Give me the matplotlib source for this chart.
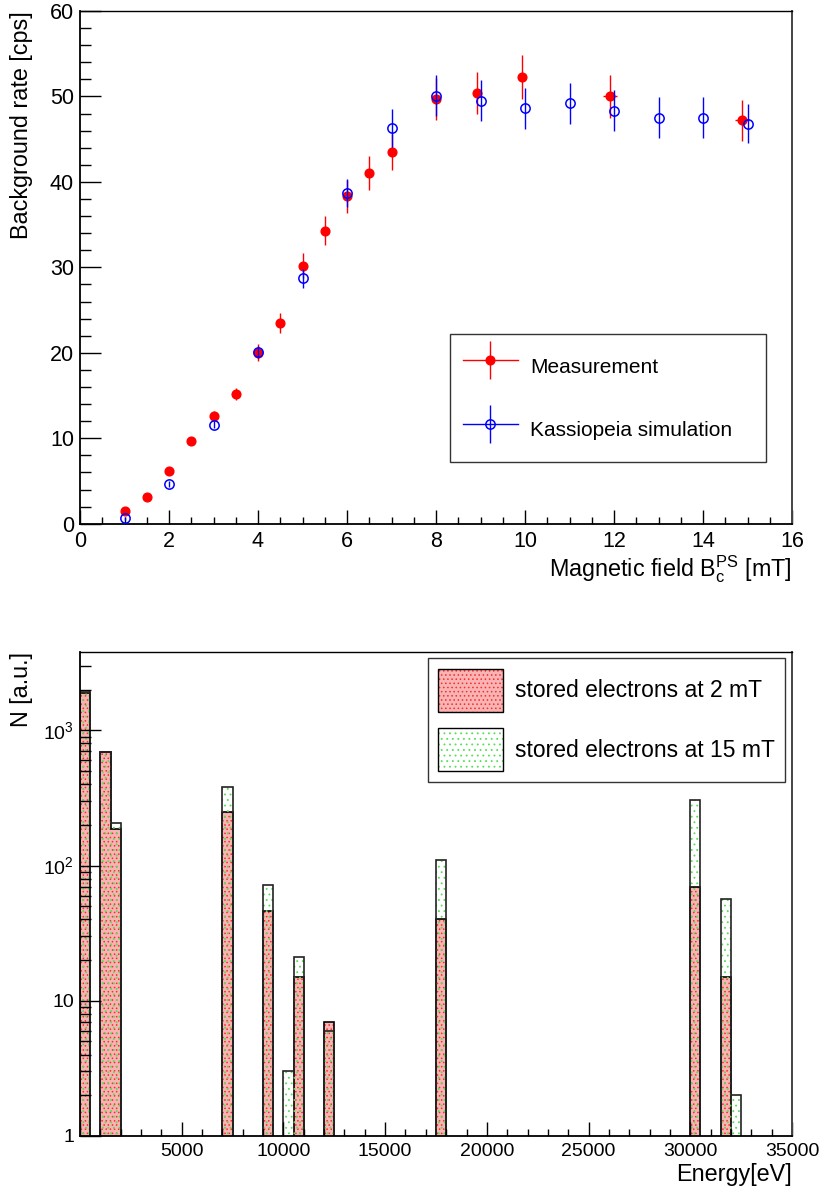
import numpy as np
import matplotlib
matplotlib.use("Agg")
import matplotlib.pyplot as plt
from matplotlib.lines import Line2D
from matplotlib.patches import Patch
from matplotlib.ticker import MultipleLocator, FixedLocator, FixedFormatter, FuncFormatter, LogLocator, NullFormatter

plt.rcParams['font.family'] = ['Liberation Sans', 'DejaVu Sans']
plt.rcParams['mathtext.fontset'] = 'custom'
plt.rcParams['mathtext.rm'] = 'Liberation Sans'
plt.rcParams['mathtext.it'] = 'Liberation Sans:italic'
plt.rcParams['mathtext.bf'] = 'Liberation Sans:bold'
plt.rcParams['hatch.linewidth'] = 0.6

# background rate vs. magnetic field
meas_field = [1, 1.5, 2, 2.5, 3, 3.5, 4, 4.5, 5, 5.5, 6, 6.5, 7, 8, 8.92, 9.93, 11.91, 14.88]
meas_field_err = [0, 0, 0, 0, 0, 0, 0, 0, 0, 0, 0, 0, 0, 0, 0, 0, 0.15, 0.15]
meas_rate = [1.5, 3.1, 6.2, 9.7, 12.6, 15.2, 20.0, 23.5, 30.2, 34.3, 38.3, 41.0, 43.5,
             49.7, 50.4, 52.3, 50.0, 47.2]
meas_err = [0.2, 0.3, 0.4, 0.5, 0.6, 0.7, 1.0, 1.15, 1.45, 1.7, 1.9, 2.0, 2.1,
            2.5, 2.5, 2.6, 2.5, 2.4]

sim_field = [1, 2, 3, 4, 5, 6, 7, 8, 9, 10, 11, 12, 13, 14, 15]
sim_rate = [0.63, 4.65, 11.6, 20.1, 28.7, 38.7, 46.3, 50.1, 49.5, 48.6, 49.2, 48.3, 47.5, 47.5, 46.8]
sim_err = [0.2, 0.3, 0.4, 0.7, 1.1, 1.6, 2.2, 2.4, 2.4, 2.4, 2.4, 2.4, 2.4, 2.4, 2.3]

# energy spectra of stored electrons (non-empty 500 eV bins)
bin_width = 500
energy_bins = [0, 1000, 1500, 7000, 9000, 10000, 10500, 12000, 17500, 30000, 31500, 32000]
counts_2mT = [1880, 690, 187, 247, 46, 0, 15, 7, 40, 70, 15, 0]
counts_15mT = [1970, 690, 205, 380, 72, 3, 21, 6, 110, 303, 57, 2]

FS_TICK_TOP = 15.5
FS_TICK_BOT = 14
FS_TITLE = 16.8

fig = plt.figure(figsize=(8.21, 11.87), dpi=100)
W, H = 821.0, 1187.0
ax1 = fig.add_axes([80 / W, 1 - 523.7 / H, 712 / W, 512.7 / H])
ax2 = fig.add_axes([80 / W, 1 - 1136 / H, 712 / W, 484 / H])


def root_frame(ax):
    for side in ('left', 'bottom'):
        ax.spines[side].set_linewidth(1.3)
    ax.spines['top'].set_linewidth(1.0)
    ax.spines['right'].set_linewidth(1.4)
    ax.spines['right'].set_color('#444444')
    ax.tick_params(which='both', direction='in', top=False, right=False, width=1.0)


# ---- upper panel ----
ax = ax1
ax.errorbar(meas_field, meas_rate, yerr=meas_err, xerr=meas_field_err, fmt='o', color='red',
            ms=6.3, elinewidth=1, capsize=0, zorder=3)
ax.errorbar(sim_field, sim_rate, yerr=sim_err, fmt='o', color='blue', mfc='none',
            ms=6.7, mew=1.1, elinewidth=1, capsize=0, zorder=4)
ax.set_xlim(0, 16)
ax.set_ylim(0, 60)
ax.xaxis.set_major_locator(MultipleLocator(2))
ax.xaxis.set_minor_locator(MultipleLocator(0.5))
ax.yaxis.set_major_locator(MultipleLocator(10))
ax.yaxis.set_minor_locator(MultipleLocator(2))
root_frame(ax)
ax.tick_params(axis='y', which='major', length=14.9, labelsize=FS_TICK_TOP, pad=4.3)
ax.tick_params(axis='y', which='minor', length=7.7)
ax.tick_params(axis='x', which='major', length=10.3, labelsize=FS_TICK_TOP, pad=5)
ax.tick_params(axis='x', which='minor', length=5)
ax.set_ylabel('Background rate [cps]', fontsize=FS_TITLE, loc='top')
ax.yaxis.set_label_coords(-0.066, 1.0)
ax.set_xlabel(r'Magnetic field $\mathregular{B_{c}^{PS}}$ [mT]', fontsize=FS_TITLE, loc='right')
ax.xaxis.set_label_coords(1.0, -0.057)

meas_handle = (Line2D([], [], color='red', lw=1),
               Line2D([], [], ls='none', marker='|', ms=27, mew=1, color='red'),
               Line2D([], [], ls='none', marker='o', ms=6.3, color='red'))
sim_handle = (Line2D([], [], color='blue', lw=1),
              Line2D([], [], ls='none', marker='|', ms=27, mew=1, color='blue'),
              Line2D([], [], ls='none', marker='o', ms=6.7, mew=1.1, mfc='none', color='blue'))
leg = ax.legend([meas_handle, sim_handle], ['Measurement', 'Kassiopeia simulation'],
                loc='upper left', bbox_to_anchor=(0.5197, 0.1198, 0.4433, 0.2496), mode='expand',
                fontsize=15, frameon=True, fancybox=False, shadow=False, borderpad=0.62,
                handlelength=2.64, handleheight=2.44, handletextpad=0.58, labelspacing=1.22,
                borderaxespad=0)
leg.get_frame().set_edgecolor('black')
leg.get_frame().set_linewidth(1.0)

# ---- lower panel ----
ax = ax2
edges = np.arange(0, 35000 + bin_width, bin_width)
h2 = np.zeros(len(edges) - 1)
h15 = np.zeros(len(edges) - 1)
for e, c2, c15 in zip(energy_bins, counts_2mT, counts_15mT):
    h2[e // bin_width] = c2
    h15[e // bin_width] = c15

red_fill = dict(facecolor='#f6b4b4', edgecolor='#ff2a2a', hatch='....', linewidth=0)
green_fill = dict(facecolor='none', edgecolor='#55e055', hatch='...', linewidth=0)

# histograms sit below the axis ticks
ax.stairs(h2, edges, baseline=0, fill=True, zorder=1.1, **red_fill)
ax.stairs(h2, edges, baseline=0, color='black', lw=1.2, zorder=1.2)
ax.stairs(h15, edges, baseline=0, fill=True, zorder=1.3, **green_fill)
ax.stairs(h15, edges, baseline=0, color='#222222', lw=1.2, zorder=1.4)

ax.set_yscale('log')
ax.set_xlim(0, 35000)
ax.set_ylim(1, 3800)
ax.xaxis.set_major_locator(MultipleLocator(5000))
ax.xaxis.set_minor_locator(MultipleLocator(1000))
ax.xaxis.set_major_formatter(FuncFormatter(lambda v, p: '' if v == 0 else f'{v:.0f}'))
ax.yaxis.set_major_locator(FixedLocator([1, 10, 100, 1000]))
ax.yaxis.set_major_formatter(FixedFormatter(['1', '10', r'$\mathregular{10^{2}}$', r'$\mathregular{10^{3}}$']))
ax.yaxis.set_minor_locator(LogLocator(base=10, subs=np.arange(2, 10)))
ax.yaxis.set_minor_formatter(NullFormatter())
root_frame(ax)
ax.tick_params(axis='y', which='major', length=14.9, labelsize=FS_TICK_BOT, pad=4.3)
ax.tick_params(axis='y', which='minor', length=7.7)
ax.tick_params(axis='x', which='major', length=10.3, labelsize=FS_TICK_BOT, pad=5)
ax.tick_params(axis='x', which='minor', length=5)
ax.set_ylabel('N [a.u.]', fontsize=FS_TITLE, loc='top')
ax.yaxis.set_label_coords(-0.066, 1.0)
ax.set_xlabel('Energy[eV]', fontsize=FS_TITLE, loc='right')
ax.xaxis.set_label_coords(1.0, -0.056)

red_handle = (Patch(**red_fill), Patch(facecolor='none', edgecolor='black', lw=1))
green_handle = (Patch(facecolor='white', edgecolor='#55e055', hatch='...', linewidth=0),
                Patch(facecolor='none', edgecolor='black', lw=1))
leg2 = ax.legend([red_handle, green_handle], ['stored electrons at 2 mT', 'stored electrons at 15 mT'],
                 loc='upper right', bbox_to_anchor=(0.990, 0.987), fontsize=16.5, frameon=True,
                 fancybox=False, shadow=False, borderpad=0.45, handlelength=2.83, handleheight=2.52,
                 handletextpad=0.5, labelspacing=0.72, borderaxespad=0)
leg2.get_frame().set_edgecolor('black')
leg2.get_frame().set_linewidth(1.0)

fig.savefig('out.png', dpi=100)
